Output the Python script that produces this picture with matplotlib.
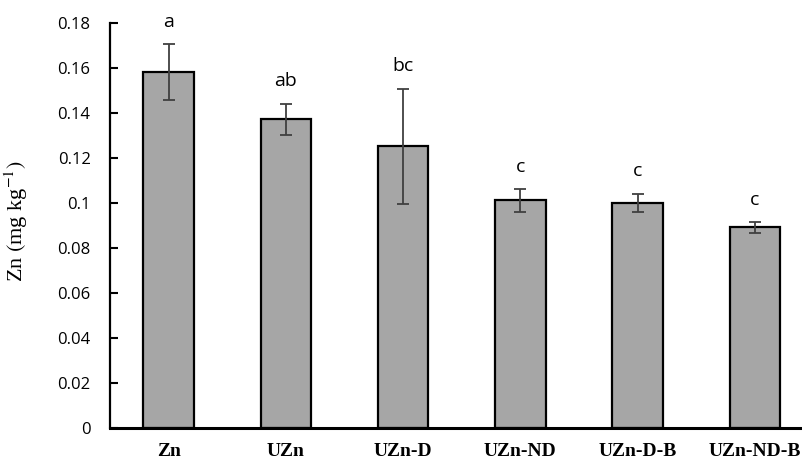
import matplotlib.pyplot as plt
import numpy as np

plt.rcParams['mathtext.fontset'] = 'stix'

treatments = ["Zn", "UZn", "UZn-D", "UZn-ND", "UZn-D-B", "UZn-ND-B"]
zn_mean = [0.158, 0.137, 0.125, 0.101, 0.100, 0.089]
zn_err = [0.0125, 0.007, 0.0257, 0.005, 0.004, 0.0023]
groups = ["a", "ab", "bc", "c", "c", "c"]
yticks = [0, 0.02, 0.04, 0.06, 0.08, 0.1, 0.12, 0.14, 0.16, 0.18]
ytick_labels = ["0", "0.02", "0.04", "0.06", "0.08", "0.1", "0.12", "0.14", "0.16", "0.18"]

fig = plt.figure(figsize=(8.03, 4.62), dpi=100)
ax = fig.add_axes([0.137, 0.074, 0.863, 0.877])

x = np.arange(len(treatments))
ax.bar(x, zn_mean, width=0.43, color="#a6a6a6", edgecolor="black", linewidth=1.6, zorder=2)
ax.errorbar(x, zn_mean, yerr=zn_err, fmt="none", ecolor="#404040",
            elinewidth=1.3, capsize=4, capthick=1.3, zorder=3)

# significance letters above each error bar
for xi, m, e, g in zip(x, zn_mean, zn_err, groups):
    ax.text(xi, m + e + 0.006, g, ha="center", va="bottom",
            fontsize=14, family="Open Sans")

ax.set_xlim(-0.5, 5.41)
ax.set_ylim(0, 0.18)
ax.set_yticks(yticks)
ax.set_yticklabels(ytick_labels, family="Open Sans", fontsize=12)
ax.set_xticks(x)
ax.set_xticklabels(treatments, family="Liberation Serif", fontweight="bold", fontsize=14)
ax.tick_params(axis="x", length=0, pad=11)
ax.tick_params(axis="y", direction="in", length=6, width=1.5, pad=14)

for side in ["top", "right"]:
    ax.spines[side].set_visible(False)
ax.spines["left"].set_linewidth(1.6)
ax.spines["bottom"].set_linewidth(2.2)

ax.set_ylabel(r"Zn $($mg kg$^{-1})$", family="Liberation Serif", fontsize=16)
ax.yaxis.set_label_coords(-0.115, 0.51)

fig.savefig("out.png", dpi=100)
